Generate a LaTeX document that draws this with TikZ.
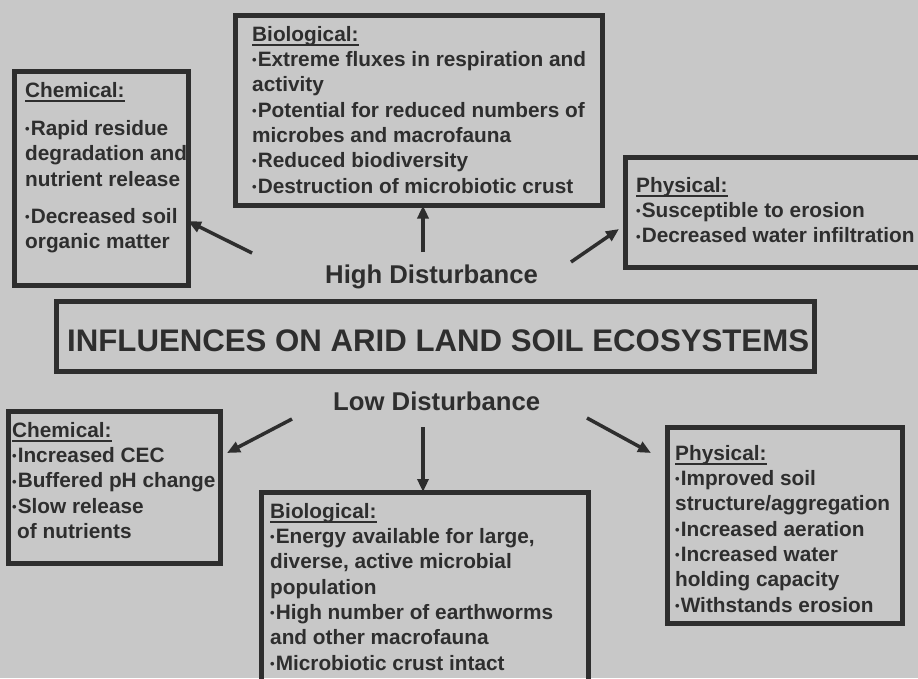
\documentclass[tikz,border=0pt]{standalone}
\usepackage{fontspec}
\setmainfont{Liberation Sans}
\usetikzlibrary{arrows.meta}
\definecolor{bg}{HTML}{C8C8C8}
\definecolor{ink}{HTML}{2E2E2E}
\newcommand\hd[1]{\setbox0\hbox{#1}\rlap{\rule[-5pt]{\wd0}{2.5pt}}\box0}
\newcommand\bl{\raisebox{1.8pt}{\fontsize{13}{13}\selectfont •}\kern1pt}
\newcommand\st{\rule{0pt}{15pt}}
\begin{document}
\begin{tikzpicture}[x=1pt,y=-1pt,
 box/.style={draw=ink, line width=5pt, inner sep=0pt, outer sep=0pt, anchor=north west},
 body/.style={anchor=north west, align=left, inner sep=0pt, text=ink, font=\bfseries\fontsize{20.8}{25.3}\selectfont},
 lab/.style={anchor=base west, inner sep=0pt, text=ink, font=\bfseries\fontsize{25.7}{26}\selectfont},
 ttl/.style={anchor=base west, inner sep=0pt, text=ink, font=\bfseries\fontsize{31.2}{32}\selectfont},
 arr/.style={draw=ink, line width=3.5pt, -{Triangle[length=13pt,width=11pt]}}]
\useasboundingbox (0,0) rectangle (918,678);
\fill[bg] (0,0) rectangle (918,678);
\clip (0,0) rectangle (918,678);
% boxes
\node[box, minimum width=173.5pt, minimum height=213.5pt] (chemH) at (14.5,71.5) {};
\node[box, minimum width=366.5pt, minimum height=190pt] (bioH) at (235.5,15.5) {};
\node[box, minimum width=310pt, minimum height=110pt] (physH) at (625.5,157.5) {};
\node[box, minimum width=758.5pt, minimum height=70.5pt] (title) at (56,301) {};
\node[box, minimum width=212pt, minimum height=152pt] (chemL) at (8.5,411.5) {};
\node[box, minimum width=327pt, minimum height=208pt] (bioL) at (261,492) {};
\node[box, minimum width=235pt, minimum height=196.5pt] (physL) at (667,427) {};
% texts
\node[body] (tchemH) at (25,82) {\st\hd{Chemical:}\\[13pt]\bl Rapid residue\\degradation and\\nutrient release\\[12pt]\bl Decreased soil\\organic matter};
\node[body] (tbioH) at (252,26) {\st\hd{Biological:}\\\bl Extreme fluxes in respiration and\\activity\\\bl Potential for reduced numbers of\\microbes and macrofauna\\\bl Reduced biodiversity\\\bl Destruction of microbiotic crust};
\node[body] (tphysH) at (636,177) {\st\hd{Physical:}\\\bl Susceptible to erosion\\\bl Decreased water infiltration};
\node[ttl] (ttext) at (67,351) {INFLUENCES ON ARID LAND SOIL ECOSYSTEMS};
\node[lab] (high) at (325,283) {High Disturbance};
\node[lab] (low) at (333,410) {Low Disturbance};
\node[body] (tchemL) at (12,422) {\st\hd{Chemical:}\\\bl Increased CEC\\\bl Buffered pH change\\\bl Slow release\\\hspace{5pt}of nutrients};
\node[body] (tbioL) at (270,503) {\st\hd{Biological:}\\\bl Energy available for large,\\diverse, active microbial\\population\\\bl High number of earthworms\\and other macrofauna\\\bl Microbiotic crust intact};
\node[body] (tphysL) at (675,445) {\st\hd{Physical:}\\\bl Improved soil\\structure/aggregation\\\bl Increased aeration\\\bl Increased water\\holding capacity\\\bl Withstands erosion};
% arrow anchors
\coordinate (h1) at (252,253);
\coordinate (h2) at (423,252);
\coordinate (h3) at (571,262);
\coordinate (e3) at (619,229);
\coordinate (l1) at (292,419);
\coordinate (e1) at (227,453);
\coordinate (l2) at (423,427);
\coordinate (l3) at (587,418);
\coordinate (e4) at (651,453);
\draw[arr] (h1) -- (chemH);
\draw[arr] (h2) -- (h2 |- bioH.south);
\draw[arr] (h3) -- (e3);
\draw[arr] (l1) -- (e1);
\draw[arr] (l2) -- (l2 |- bioL.north);
\draw[arr] (l3) -- (e4);
\end{tikzpicture}
\end{document}
